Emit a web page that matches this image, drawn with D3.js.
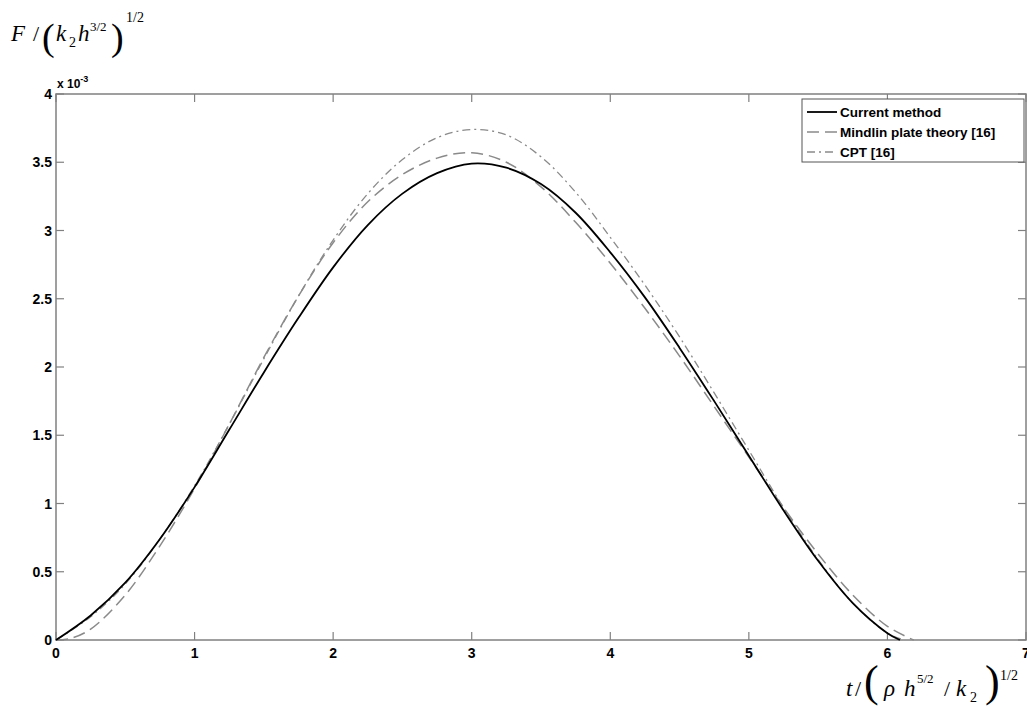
<!DOCTYPE html>
<html lang="en">
<head>
<meta charset="UTF-8">
<title>Contact force history</title>
<script src="https://d3js.org/d3.v7.min.js"></script>
<style>
    body { margin: 0; background: #fff; }
    svg { display: block; }
    .tick-label { font-family: "Liberation Sans", Arial, sans-serif; font-weight: bold; font-size: 14px; fill: #000; }
    .legend-text { font-family: "Liberation Sans", Arial, sans-serif; font-weight: bold; font-size: 13.5px; fill: #000; }
    .math { font-family: "Liberation Serif", "Times New Roman", serif; fill: #000; }
</style>
</head>
<body>
<svg id="chart" width="1027" height="706"></svg>
<script>
// time axis (non-dimensional), force in units of 1e-3
const tCurrent = [0, 0.25, 0.5, 0.75, 1.0, 1.25, 1.5, 1.75, 2.0, 2.25, 2.5, 2.75, 3.0, 3.25, 3.5, 3.75, 4.0, 4.25, 4.5, 4.75, 5.0, 5.25, 5.5, 5.75, 6.0, 6.09];
const fCurrent = [0, 0.18, 0.42, 0.74, 1.12, 1.54, 1.96, 2.36, 2.73, 3.04, 3.27, 3.42, 3.49, 3.46, 3.34, 3.13, 2.84, 2.51, 2.14, 1.75, 1.35, 0.95, 0.58, 0.27, 0.05, 0];

const tMindlin = [0, 0.1, 0.25, 0.5, 0.75, 1.0, 1.25, 1.5, 1.75, 2.0, 2.25, 2.5, 2.75, 3.0, 3.25, 3.5, 3.75, 4.0, 4.25, 4.5, 4.75, 5.0, 5.25, 5.5, 5.75, 6.0, 6.19];
const fMindlin = [0, 0.01, 0.08, 0.33, 0.69, 1.11, 1.58, 2.07, 2.52, 2.91, 3.21, 3.41, 3.53, 3.57, 3.50, 3.32, 3.06, 2.76, 2.43, 2.08, 1.71, 1.34, 0.97, 0.63, 0.33, 0.10, 0];

const tCPT = [0, 0.25, 0.5, 0.75, 1.0, 1.25, 1.5, 1.75, 2.0, 2.25, 2.5, 2.75, 3.0, 3.25, 3.5, 3.75, 4.0, 4.25, 4.5, 4.75, 5.0, 5.25, 5.5, 5.75, 6.0, 6.12];
const fCPT = [0, 0.17, 0.41, 0.74, 1.13, 1.58, 2.06, 2.52, 2.93, 3.27, 3.52, 3.68, 3.74, 3.70, 3.54, 3.28, 2.95, 2.60, 2.22, 1.81, 1.39, 0.97, 0.59, 0.27, 0.05, 0];

const xTicks = [0, 1, 2, 3, 4, 5, 6, 7];
const yTicks = [0, 0.5, 1, 1.5, 2, 2.5, 3, 3.5, 4];
const legendNames = ["Current method", "Mindlin plate theory [16]", "CPT [16]"];

const svg = d3.select("#chart");
const mLeft = 56, mRight = 1026, mTop = 94, mBottom = 640;

const x = d3.scaleLinear().domain([0, 7]).range([mLeft, mRight]);
const y = d3.scaleLinear().domain([0, 4]).range([mBottom, mTop]);

const axisColor = "#808080";

// frame
svg.append("rect")
    .attr("x", mLeft).attr("y", mTop)
    .attr("width", mRight - mLeft).attr("height", mBottom - mTop)
    .attr("fill", "none").attr("stroke", axisColor).attr("stroke-width", 1.5);

// ticks on all four sides, pointing inward
const tickLen = 8;
const ticks = svg.append("g").attr("stroke", axisColor).attr("stroke-width", 1.2);
xTicks.forEach(v => {
    ticks.append("line").attr("x1", x(v)).attr("x2", x(v)).attr("y1", mBottom).attr("y2", mBottom - tickLen);
    ticks.append("line").attr("x1", x(v)).attr("x2", x(v)).attr("y1", mTop).attr("y2", mTop + tickLen);
});
yTicks.forEach(v => {
    ticks.append("line").attr("x1", mLeft).attr("x2", mLeft + tickLen).attr("y1", y(v)).attr("y2", y(v));
    ticks.append("line").attr("x1", mRight).attr("x2", mRight - tickLen).attr("y1", y(v)).attr("y2", y(v));
});

svg.append("g").selectAll("text").data(xTicks).join("text")
    .attr("class", "tick-label")
    .attr("x", d => x(d)).attr("y", mBottom + 18)
    .attr("text-anchor", "middle")
    .text(d => d);

svg.append("g").selectAll("text").data(yTicks).join("text")
    .attr("class", "tick-label")
    .attr("x", mLeft - 4).attr("y", d => y(d) + 5)
    .attr("text-anchor", "end")
    .text(d => d);

// exponent note
const expo = svg.append("text").attr("class", "tick-label").attr("x", mLeft + 1).attr("y", mTop - 6).style("font-size", "12px");
expo.append("tspan").text("x 10");
expo.append("tspan").attr("dy", -6).style("font-size", "9px").text("-3");

// curves
const line = d3.line().x(d => x(d[0])).y(d => y(d[1])).curve(d3.curveCatmullRom.alpha(0.5));
const series = [
    {t: tCurrent, f: fCurrent, color: "#000", width: 1.8, dash: null},
    {t: tMindlin, f: fMindlin, color: "#8a8a8a", width: 1.5, dash: "12,6"},
    {t: tCPT, f: fCPT, color: "#8a8a8a", width: 1.3, dash: "8,4,2,4"}
];
const plot = svg.append("g");
series.slice().reverse().forEach(s => {
    plot.append("path")
        .datum(s.t.map((t, i) => [t, s.f[i]]))
        .attr("d", line)
        .attr("fill", "none")
        .attr("stroke", s.color)
        .attr("stroke-width", s.width)
        .attr("stroke-dasharray", s.dash);
});

// legend
const lg = svg.append("g");
lg.append("rect")
    .attr("x", 802).attr("y", 99).attr("width", 222).attr("height", 63)
    .attr("fill", "#fff").attr("stroke", "#555").attr("stroke-width", 1);
series.forEach((s, i) => {
    const ly = 112 + i * 20;
    lg.append("line")
        .attr("x1", 807).attr("x2", 837).attr("y1", ly).attr("y2", ly)
        .attr("stroke", s.color).attr("stroke-width", s.width)
        .attr("stroke-dasharray", s.dash);
    lg.append("text").attr("class", "legend-text")
        .attr("x", 840).attr("y", ly + 5).text(legendNames[i]);
});

// formula labels, one piece per glyph group: [text, x, y, size, italic]
function formula(parts) {
    const g = svg.append("g").attr("class", "math");
    parts.forEach(p => {
        g.append("text")
            .attr("x", p[1]).attr("y", p[2])
            .style("font-size", p[3] + "px")
            .style("font-style", p[4] ? "italic" : "normal")
            .text(p[0]);
    });
}

// F / (k2 h^{3/2})^{1/2}
formula([
    ["F", 11, 41, 23, true],
    ["/", 33, 41, 22, false],
    ["(", 42, 50, 38, false],
    ["k", 56, 41, 23, true],
    ["2", 69, 47, 14, false],
    ["h", 78, 41, 23, true],
    ["3/2", 90, 31, 13, false],
    [")", 111, 50, 38, false],
    ["1/2", 126, 22, 14, false]
]);

// t / (rho h^{5/2} / k2)^{1/2}
formula([
    ["t", 846, 696, 23, true],
    ["/", 855, 696, 22, false],
    ["(", 864, 696, 44, false],
    ["ρ", 884, 696, 23, true],
    ["h", 904, 696, 23, true],
    ["5/2", 917, 683, 13, false],
    ["/", 944, 696, 22, false],
    ["k", 956, 696, 23, true],
    ["2", 970, 702, 14, false],
    [")", 985, 696, 44, false],
    ["1/2", 1000, 680, 14, false]
]);
</script>
</body>
</html>
